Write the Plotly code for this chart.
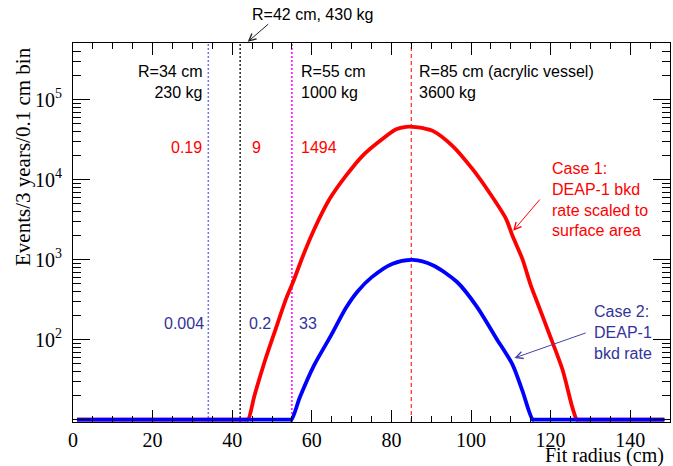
import numpy as np
import plotly.graph_objects as go

# ---------------- data ----------------
radius_case1 = [1.0, 43.0, 43.5, 44.0, 45.6, 48.2, 50.7, 53.6, 55.3, 57.8, 60.7,
                64.5, 68.6, 72.8, 77.0, 81.2, 83.7, 85.4, 88.0, 90.4, 95.4, 100.4,
                104.6, 108.8, 110.4, 112.9, 115.0, 117.0, 119.6, 123.0, 125.5, 126.6,
                127.2, 148.6]
events_case1 = [0, 0, 0, 10, 20, 54, 126, 330, 525, 1120, 2450,
                5750, 11200, 20000, 30200, 42700, 45700, 45700, 44000, 40700, 26300, 13500,
                6900, 3240, 2000, 1020, 480, 263, 120, 42, 14, 0,
                0, 0]

radius_case2 = [1.0, 54.3, 54.9, 57.0, 60.5, 64.8, 68.6, 71.5, 75.0, 80.3, 85.4,
                90.4, 96.5, 101.5, 106.3, 110.4, 112.9, 115.5, 116.1, 148.6]
events_case2 = [0, 0, 0, 19, 47, 112, 250, 400, 600, 890, 990,
                850, 525, 257, 105, 49, 23, 0, 0, 0]

cut_radii = [34, 42, 55, 85]
cut_labels = ["R=34 cm<br>230 kg", "R=42 cm, 430 kg", "R=55 cm<br>1000 kg",
              "R=85 cm (acrylic vessel)<br>3600 kg"]
counts_case1 = ["0.19", "9", "1494"]
counts_case2 = ["0.004", "0.2", "33"]

y_tick_vals = [10, 100, 1000, 10000, 100000]
y_tick_text = ["", "10<sup>2</sup>", "10<sup>3</sup>", "10<sup>4</sup>", "10<sup>5</sup>"]
x_tick_vals = [0, 20, 40, 60, 80, 100, 120, 140]

Y_MIN = 10  # empty bins are drawn at the axis minimum (ROOT style)

RED = "#ff0000"
BLUE = "#0000ff"
BLUE_TXT = "#33339a"
SANS = "Liberation Sans"
SERIF = "Liberation Serif"

fig = go.Figure()
fig.add_trace(go.Scatter(x=radius_case1, y=np.maximum(events_case1, Y_MIN),
                         mode="lines", line=dict(color=RED, width=3.8, shape="spline", smoothing=0.8),
                         showlegend=False, hoverinfo="skip"))
fig.add_trace(go.Scatter(x=radius_case2, y=np.maximum(events_case2, Y_MIN),
                         mode="lines", line=dict(color=BLUE, width=3.8, shape="spline", smoothing=0.8),
                         showlegend=False, hoverinfo="skip"))

line_styles = [("#7070f8", "2px,2px", 1.5), ("#222222", "2px,2px", 1.5),
               ("#ff00ff", "2px,2px", 1.5), ("#ff2a2a", "4px,3px", 1.2)]
for r, (c, d, w) in zip(cut_radii, line_styles):
    fig.add_shape(type="line", x0=r, x1=r, y0=0, y1=1, xref="x", yref="paper",
                  line=dict(color=c, dash=d, width=w), layer="below")

ann = []
def txt(text, x, y, xanchor, color="black", size=16, align="left"):
    ann.append(dict(text=text, x=x, y=y, xref="x", yref="paper", xanchor=xanchor,
                    yanchor="middle", showarrow=False, align=align,
                    font=dict(family=SANS, size=size, color=color)))

# cut labels
txt(cut_labels[0], 32.9, 0.896, "right", align="right")
txt(cut_labels[1], 44.4, 1.074, "left")
txt(cut_labels[2], 56.7, 0.896, "left")
txt(cut_labels[3], 86.5, 0.896, "left")
# counts
txt(counts_case1[0], 32.9, 0.723, "right", RED)
txt(counts_case1[1], 44.4, 0.723, "left", RED)
txt(counts_case1[2], 56.7, 0.723, "left", RED)
txt(counts_case2[0], 33.4, 0.259, "right", BLUE_TXT)
txt(counts_case2[1], 43.6, 0.259, "left", BLUE_TXT)
txt(counts_case2[2], 56.4, 0.259, "left", BLUE_TXT)
# case labels
txt("Case 1:<br>DEAP-1 bkd<br>rate scaled to<br>surface area", 119.9, 0.587, "left", RED)
txt("Case 2:<br>DEAP-1<br>bkd rate", 130.4, 0.235, "left", BLUE_TXT)

# arrows
ann.append(dict(text="", x=43.9, y=1.003, xref="x", yref="paper", ax=22, ay=-19,
                showarrow=True, arrowhead=5, arrowsize=1.4, arrowwidth=1, arrowcolor="#222222"))
ann.append(dict(text="", x=110.6, y=3.36, xref="x", yref="y", ax=117.6, ay=3.77,
                axref="x", ayref="y",
                showarrow=True, arrowhead=5, arrowsize=1.4, arrowwidth=1, arrowcolor=RED))
ann.append(dict(text="", x=110.9, y=1.77, xref="x", yref="y", ax=129.2, ay=2.09,
                axref="x", ayref="y",
                showarrow=True, arrowhead=5, arrowsize=1.4, arrowwidth=1, arrowcolor="#4444aa"))

# axis titles
ann.append(dict(text="Events/3 years/0.1 cm bin", x=-0.085, y=0.70, xref="paper", yref="paper",
                textangle=-90, showarrow=False, xanchor="center", yanchor="middle",
                font=dict(family=SERIF, size=21, color="black")))
ann.append(dict(text="Fit radius (cm)", x=0.993, y=-0.088, xref="paper", yref="paper",
                showarrow=False, xanchor="right", yanchor="middle",
                font=dict(family=SERIF, size=20, color="black")))

minor_y = [m * 10 ** k for k in range(1, 6) for m in range(2, 10)]

fig.update_layout(
    width=673, height=466,
    margin=dict(l=73, r=3, t=43, b=44),
    paper_bgcolor="white", plot_bgcolor="white",
    annotations=ann,
    xaxis=dict(range=[0, 150], tickvals=x_tick_vals, ticks="inside", ticklen=12,
               tickcolor="black", showline=True, mirror="allticks", linecolor="black",
               linewidth=1, showgrid=False, zeroline=False,
               minor=dict(dtick=5, tick0=0, ticks="inside", ticklen=6, tickcolor="black",
                          showgrid=False),
               tickfont=dict(family=SERIF, size=20, color="black")),
    yaxis=dict(type="log", range=[0.97, 5.708], tickvals=y_tick_vals, ticktext=y_tick_text,
               ticks="inside", ticklen=17, tickcolor="black", showline=True,
               mirror="allticks", linecolor="black", linewidth=1, showgrid=False,
               zeroline=False, ticklabelstandoff=6,
               minor=dict(tickvals=minor_y, ticks="inside", ticklen=8, tickcolor="black",
                          showgrid=False),
               tickfont=dict(family=SERIF, size=20, color="black")),
)

fig.write_html("out.html")
